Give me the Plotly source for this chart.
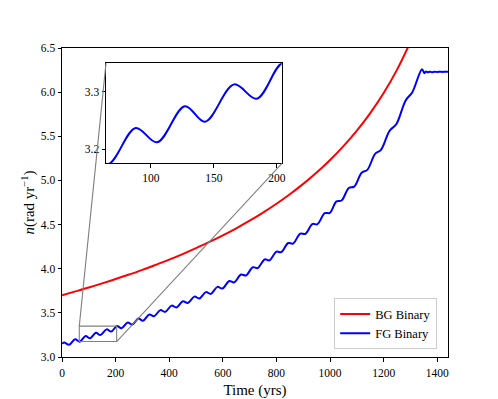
import plotly.graph_objects as go

# BG binary: mean motion, every 50 yr
bg_t = [0, 50, 100, 150, 200, 250, 300, 350, 400, 450, 500, 550, 600, 650,
        700, 750, 800, 850, 900, 950, 1000, 1050, 1100, 1150, 1200, 1250, 1300]
bg_n = [3.700, 3.743, 3.787, 3.834, 3.883, 3.934, 3.987, 4.044, 4.103, 4.166,
        4.233, 4.303, 4.378, 4.458, 4.544, 4.636, 4.736, 4.844, 4.961, 5.089,
        5.231, 5.388, 5.564, 5.763, 5.990, 6.255, 6.569]

# FG binary: crests and troughs of the wiggly blue curve, then the flat tail
fg_t = [0, 8, 27, 49, 66, 88, 105, 127, 143, 166, 184, 205, 222, 245, 262,
        285, 302, 326, 343, 367, 385, 409, 427, 451, 469, 494, 512, 537, 555,
        580, 598, 624, 642, 668, 686, 712, 730, 756, 774, 800, 818, 844, 862,
        889, 908, 934, 953, 980, 999, 1024, 1043, 1070, 1090, 1118, 1139,
        1168, 1190, 1222, 1247, 1282, 1307, 1343, 1352, 1358, 1364, 1372,
        1380, 1390, 1400, 1410, 1420, 1430, 1440]
fg_n = [3.150, 3.163, 3.139, 3.202, 3.174, 3.237, 3.212, 3.275, 3.248, 3.313,
        3.288, 3.351, 3.326, 3.391, 3.367, 3.435, 3.411, 3.482, 3.461, 3.531,
        3.511, 3.582, 3.561, 3.632, 3.612, 3.684, 3.663, 3.735, 3.715, 3.794,
        3.775, 3.860, 3.845, 3.934, 3.923, 4.017, 4.007, 4.105, 4.095, 4.193,
        4.187, 4.291, 4.285, 4.398, 4.395, 4.506, 4.504, 4.629, 4.632, 4.762,
        4.773, 4.914, 4.930, 5.088, 5.120, 5.300, 5.347, 5.562, 5.636, 5.906,
        6.000, 6.260, 6.215, 6.235, 6.225, 6.232, 6.226, 6.231, 6.228, 6.232,
        6.229, 6.231, 6.230]

X_RANGE = [0, 1440]
Y_RANGE = [3.0, 6.5]
ZOOM_X = [64.5, 204]
ZOOM_Y = [3.1755, 3.35]
INSET_DX = [0.114, 0.570]
INSET_DY = [0.627, 0.951]

FONT = "Liberation Serif"
GRAY = "#808080"


def to_paper(x, y):
    px = (x - X_RANGE[0]) / (X_RANGE[1] - X_RANGE[0])
    py = (y - Y_RANGE[0]) / (Y_RANGE[1] - Y_RANGE[0])
    return px, py


fig = go.Figure()
fig.add_trace(go.Scatter(x=bg_t, y=bg_n, mode="lines", name="BG Binary",
                         line=dict(color="#ff0000", width=2, shape="spline")))
fig.add_trace(go.Scatter(x=fg_t, y=fg_n, mode="lines", name="FG Binary",
                         line=dict(color="#0000ff", width=2, shape="spline",
                                   smoothing=1.0)))
fig.add_trace(go.Scatter(x=fg_t, y=fg_n, mode="lines", showlegend=False,
                         xaxis="x2", yaxis="y2",
                         line=dict(color="#0000ff", width=2, shape="spline",
                                   smoothing=1.0)))

axis = dict(showline=True, linecolor="black", linewidth=1, mirror=True,
            ticks="outside", ticklen=3.5, tickwidth=0.8, tickcolor="black",
            showgrid=False, zeroline=False, automargin=False,
            tickfont=dict(family=FONT, size=11.5, color="black"))

# zoom box and the two connector lines (mark_inset style)
tl = to_paper(ZOOM_X[0], ZOOM_Y[1])
br = to_paper(ZOOM_X[1], ZOOM_Y[0])
shapes = [
    dict(type="rect", xref="x", yref="y", x0=ZOOM_X[0], x1=ZOOM_X[1],
         y0=ZOOM_Y[0], y1=ZOOM_Y[1], line=dict(color=GRAY, width=1.1)),
    dict(type="line", xref="paper", yref="paper", x0=tl[0], y0=tl[1],
         x1=INSET_DX[0], y1=INSET_DY[1], line=dict(color=GRAY, width=1.1)),
    dict(type="line", xref="paper", yref="paper", x0=br[0], y0=br[1],
         x1=INSET_DX[1], y1=INSET_DY[0], line=dict(color=GRAY, width=1.1)),
]

fig.update_layout(
    width=498, height=399,
    margin=dict(l=62, r=50, t=48, b=42),
    paper_bgcolor="white", plot_bgcolor="white",
    font=dict(family=FONT, color="black"),
    xaxis=dict(axis, range=X_RANGE, tickvals=list(range(0, 1401, 200)),
               ticklabelstandoff=2,
               title=dict(text="Time (yrs)", standoff=6,
                          font=dict(family=FONT, size=15))),
    yaxis=dict(axis, range=Y_RANGE,
               tickvals=[3.0, 3.5, 4.0, 4.5, 5.0, 5.5, 6.0, 6.5],
               tickformat=".1f",
               title=dict(text="<i>n</i>(rad yr<sup>−1</sup>)", standoff=2,
                          font=dict(family=FONT, size=15))),
    xaxis2=dict(axis, domain=INSET_DX, anchor="y2", range=ZOOM_X,
                tickvals=[100, 150, 200]),
    yaxis2=dict(axis, domain=INSET_DY, anchor="x2", range=ZOOM_Y,
                tickvals=[3.2, 3.3], tickformat=".1f"),
    shapes=shapes,
    showlegend=True,
    legend=dict(x=0.972, y=0.025, xanchor="right", yanchor="bottom",
                bgcolor="rgba(255,255,255,0.8)", bordercolor="#cccccc",
                borderwidth=1, font=dict(family=FONT, size=12.5),
                itemwidth=30, tracegroupgap=0),
)

fig.write_html("out.html", config={"displayModeBar": False},
               post_script="document.body.style.margin='0';")
